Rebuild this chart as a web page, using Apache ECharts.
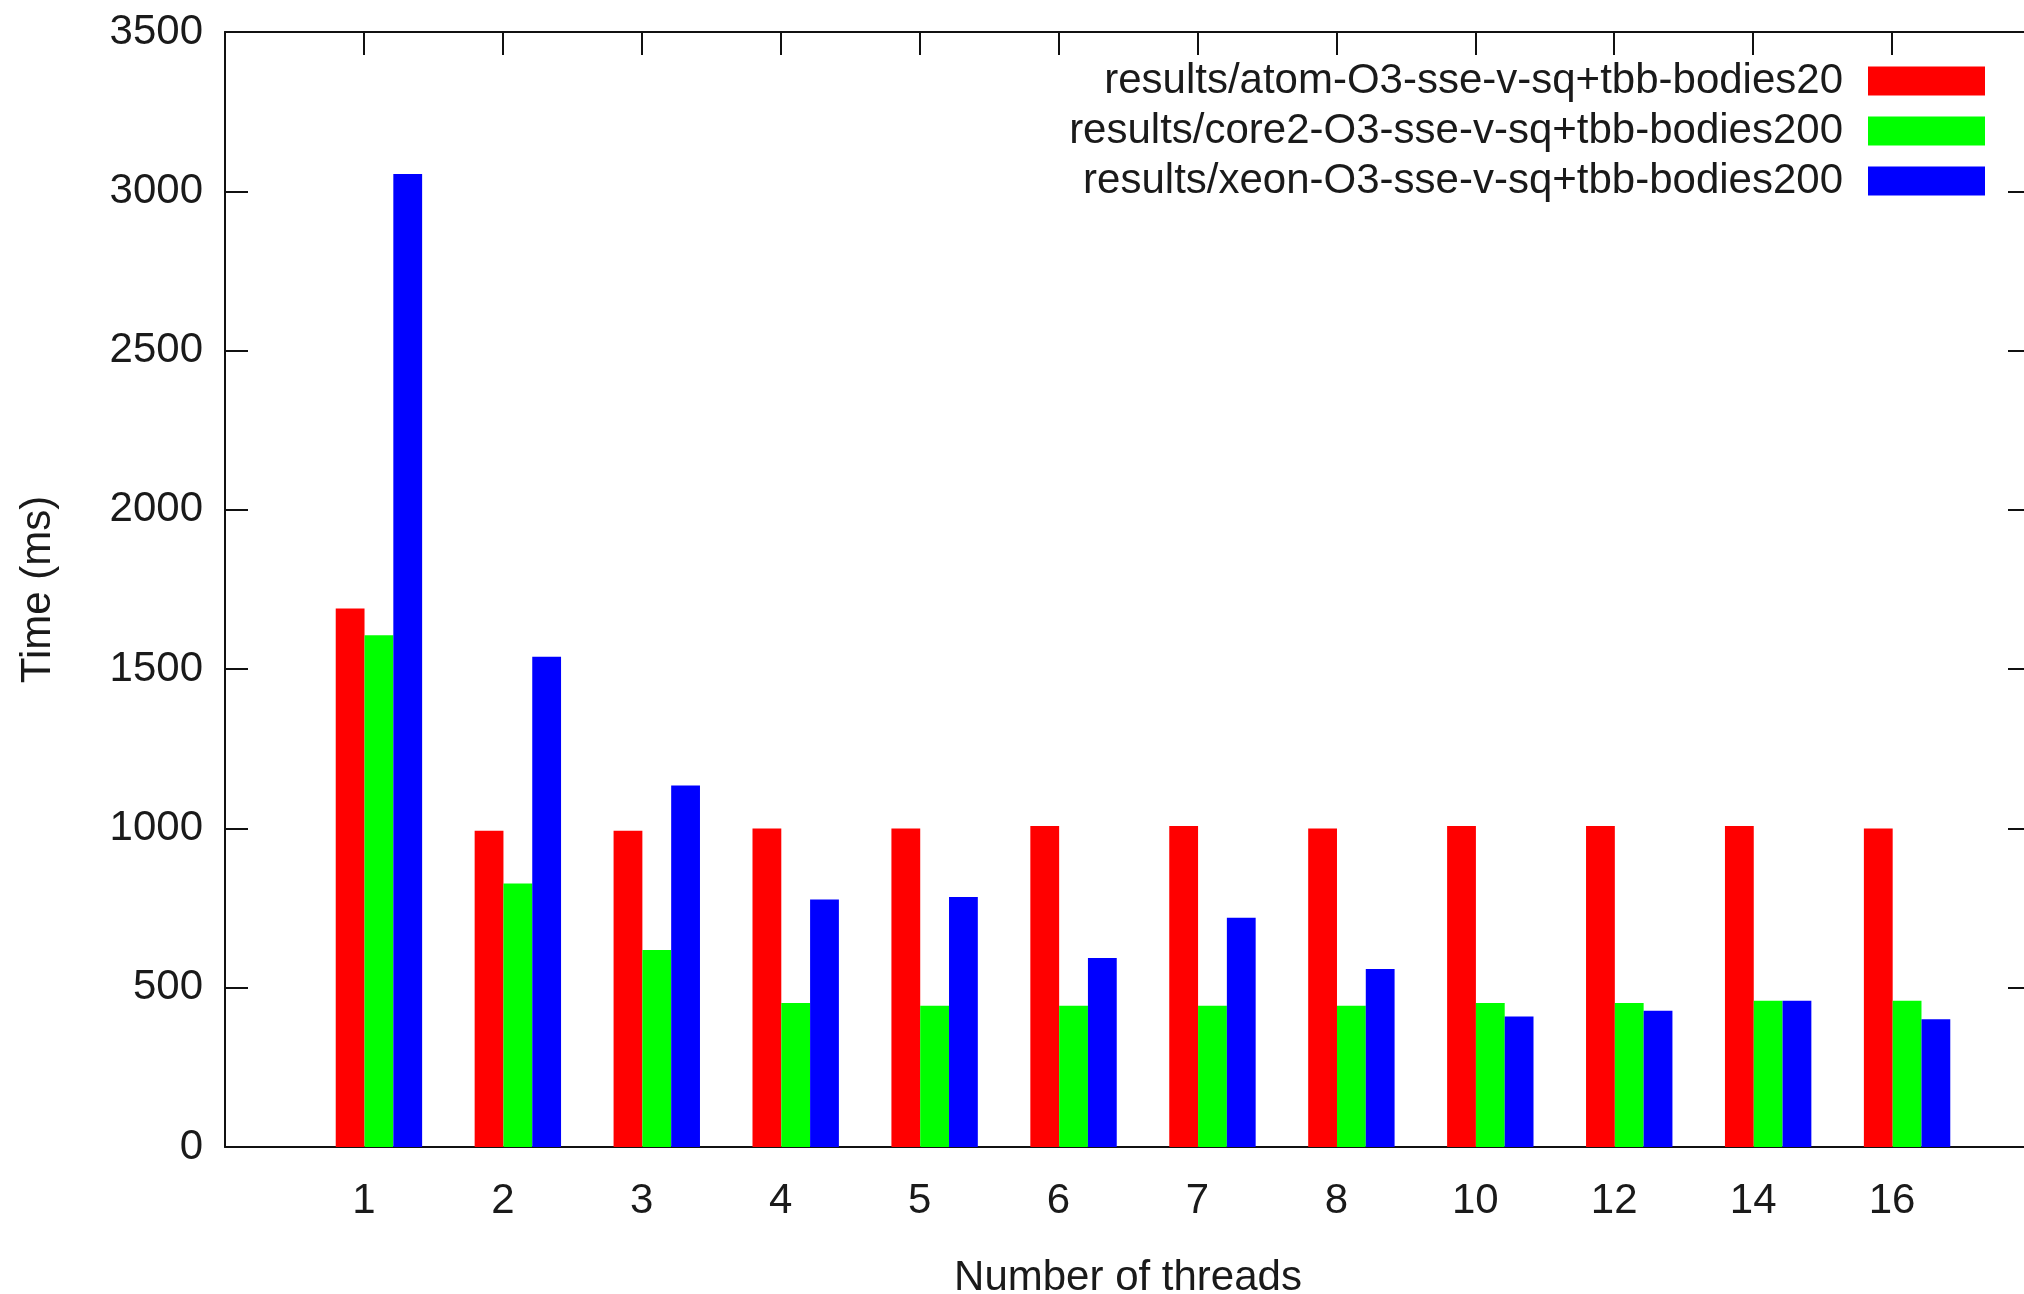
<!DOCTYPE html>
<html>
<head>
<meta charset="utf-8">
<script src="https://cdn.jsdelivr.net/npm/echarts@6/dist/echarts.min.js"></script>
<style>
  html, body { margin: 0; padding: 0; background: #fff; }
  #chart { width: 2024px; height: 1294px; }
</style>
</head>
<body>
<div id="chart"></div>
<script>
// ---- data ----
const categories = ['1', '2', '3', '4', '5', '6', '7', '8', '10', '12', '14', '16'];
const seriesNames = [
  'results/atom-O3-sse-v-sq+tbb-bodies20',
  'results/core2-O3-sse-v-sq+tbb-bodies200',
  'results/xeon-O3-sse-v-sq+tbb-bodies200'
];
const atomValues  = [1690, 993, 993, 1000, 1000, 1008, 1008, 1000, 1008, 1008, 1008, 1000];
const core2Values = [1606, 827, 618, 452, 443, 443, 443, 443, 452, 452, 459, 459];
const xeonValues  = [3054, 1539, 1135, 777, 785, 593, 720, 559, 410, 428, 459, 401];
const yTicks = [0, 500, 1000, 1500, 2000, 2500, 3000, 3500];

// ---- styles ----
const colors = ['#ff0000', '#00ff00', '#0000ff'];
const FONT = 'Liberation Sans, Arial, sans-serif';
const FS = 42;
const TXT = '#1a1a1a';
const AX = '#111';

const chart = echarts.init(document.getElementById('chart'), null, { renderer: 'canvas' });

const toPairs = arr => arr.map((v, i) => [i, v]);
const catLabel = v => {
  const i = Math.round(v);
  return (i >= 0 && i < categories.length && Math.abs(v - i) < 1e-6) ? categories[i] : '';
};

const xMin = -1, xMax = 12;
const groupShift = 0.108; // cluster offset relative to tic (gnuplot layout)

const option = {
  animation: false,
  backgroundColor: '#fff',
  textStyle: { fontFamily: FONT, color: TXT },
  grid: { left: 225, top: 32, width: 1806, height: 1115, containLabel: false, outerBoundsMode: 'none' },
  legend: {
    orient: 'vertical',
    align: 'right',
    right: 39,
    top: 60,
    padding: 0,
    itemWidth: 117,
    itemHeight: 29,
    itemGap: 8,
    icon: 'rect',
    selectedMode: false,
    data: seriesNames,
    textStyle: { fontFamily: FONT, fontSize: FS, color: TXT, padding: [0, 20, 0, 0] }
  },
  xAxis: [
    {
      type: 'value', position: 'bottom', min: xMin, max: xMax, interval: 1,
      name: 'Number of threads', nameLocation: 'middle', nameGap: 110,
      nameTextStyle: { fontFamily: FONT, fontSize: FS, color: TXT },
      axisLine: { show: true, onZero: false, lineStyle: { color: AX, width: 2 } },
      axisTick: { show: false },
      axisLabel: { formatter: catLabel, fontFamily: FONT, fontSize: FS, color: TXT, margin: 33 },
      splitLine: { show: false }
    },
    {
      type: 'value', position: 'top', min: xMin, max: xMax, interval: 1,
      axisLine: { show: true, onZero: false, lineStyle: { color: AX, width: 2 } },
      axisTick: { show: true, inside: true, length: 23, lineStyle: { color: AX, width: 2 } },
      axisLabel: { show: false },
      splitLine: { show: false }
    },
    {
      type: 'value', show: false, min: xMin - groupShift, max: xMax - groupShift,
      splitLine: { show: false }
    }
  ],
  yAxis: [
    {
      type: 'value', position: 'left', min: yTicks[0], max: yTicks[yTicks.length - 1], interval: 500,
      name: 'Time (ms)', nameLocation: 'middle', nameGap: 166, nameRotate: 90,
      nameTextStyle: { fontFamily: FONT, fontSize: FS, color: TXT },
      axisLine: { show: true, onZero: false, lineStyle: { color: AX, width: 2 } },
      axisTick: { show: true, inside: true, length: 23, lineStyle: { color: AX, width: 2 } },
      axisLabel: { fontFamily: FONT, fontSize: FS, color: TXT, margin: 22, formatter: v => String(v) },
      splitLine: { show: false }
    },
    {
      type: 'value', position: 'right', min: yTicks[0], max: yTicks[yTicks.length - 1], interval: 500,
      axisLine: { show: true, onZero: false, lineStyle: { color: AX, width: 2 } },
      axisTick: { show: true, inside: true, length: 23, lineStyle: { color: AX, width: 2 } },
      axisLabel: { show: false },
      splitLine: { show: false }
    }
  ],
  series: [atomValues, core2Values, xeonValues].map((vals, k) => ({
    name: seriesNames[k],
    type: 'bar',
    xAxisIndex: 2,
    yAxisIndex: 0,
    data: toPairs(vals),
    barWidth: 28.8,
    barGap: '0%',
    itemStyle: { color: colors[k] },
    emphasis: { disabled: true }
  }))
};

chart.setOption(option);
</script>
</body>
</html>
